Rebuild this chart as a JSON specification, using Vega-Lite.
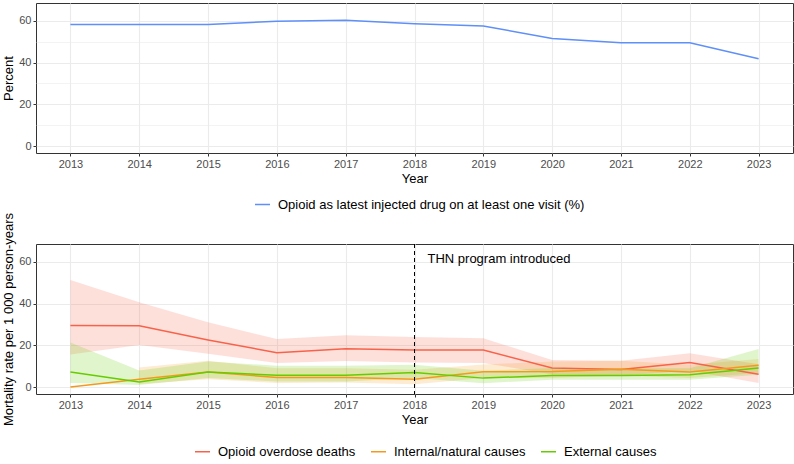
{
  "$schema": "https://vega.github.io/schema/vega-lite/v6.json",
  "padding": {"left": 2, "top": 2, "right": 2, "bottom": 2},
  "background": "white",
  "spacing": 91,
  "bounds": "flush",
  "resolve": {"scale": {"color": "independent"}, "legend": {"color": "independent"}},
  "config": {
    "font": "Liberation Sans",
    "view": {"stroke": "#333333", "strokeWidth": 1},
    "axis": {
      "domain": false,
      "labelFont": "Liberation Sans",
      "labelFontSize": 11,
      "labelColor": "#4D4D4D",
      "tickColor": "#333333",
      "tickSize": 3,
      "labelPadding": 2,
      "titleFont": "Liberation Sans",
      "titleFontSize": 13,
      "titleFontWeight": "normal",
      "titleColor": "#000000",
      "titlePadding": 3,
      "gridColor": "#EBEBEB"
    },
    "legend": {
      "orient": "none",
      "direction": "horizontal",
      "title": null,
      "labelFont": "Liberation Sans",
      "labelFontSize": 13,
      "labelColor": "#000000",
      "labelLimit": 0,
      "symbolType": "stroke",
      "symbolSize": 225,
      "symbolStrokeWidth": 1.5,
      "labelOffset": 7,
      "columnPadding": 12
    }
  },
  "datasets": {
    "pct": [
      {"year": 2013, "pct": 58.2, "series": "Opioid as latest injected drug on at least one visit (%)"},
      {"year": 2014, "pct": 58.2, "series": "Opioid as latest injected drug on at least one visit (%)"},
      {"year": 2015, "pct": 58.2, "series": "Opioid as latest injected drug on at least one visit (%)"},
      {"year": 2016, "pct": 59.8, "series": "Opioid as latest injected drug on at least one visit (%)"},
      {"year": 2017, "pct": 60.3, "series": "Opioid as latest injected drug on at least one visit (%)"},
      {"year": 2018, "pct": 58.6, "series": "Opioid as latest injected drug on at least one visit (%)"},
      {"year": 2019, "pct": 57.5, "series": "Opioid as latest injected drug on at least one visit (%)"},
      {"year": 2020, "pct": 51.5, "series": "Opioid as latest injected drug on at least one visit (%)"},
      {"year": 2021, "pct": 49.5, "series": "Opioid as latest injected drug on at least one visit (%)"},
      {"year": 2022, "pct": 49.5, "series": "Opioid as latest injected drug on at least one visit (%)"},
      {"year": 2023, "pct": 41.8, "series": "Opioid as latest injected drug on at least one visit (%)"}
    ],
    "mort": [
      {"year": 2013, "cause": "Opioid overdose deaths", "rate": 29.5, "lo": 15.6, "hi": 51.3},
      {"year": 2014, "cause": "Opioid overdose deaths", "rate": 29.4, "lo": 20.2, "hi": 40.6},
      {"year": 2015, "cause": "Opioid overdose deaths", "rate": 22.6, "lo": 16.0, "hi": 31.0},
      {"year": 2016, "cause": "Opioid overdose deaths", "rate": 16.5, "lo": 11.5, "hi": 23.0},
      {"year": 2017, "cause": "Opioid overdose deaths", "rate": 18.3, "lo": 12.5, "hi": 24.8},
      {"year": 2018, "cause": "Opioid overdose deaths", "rate": 17.8, "lo": 11.8, "hi": 24.0},
      {"year": 2019, "cause": "Opioid overdose deaths", "rate": 17.8, "lo": 11.5, "hi": 23.4},
      {"year": 2020, "cause": "Opioid overdose deaths", "rate": 9.1, "lo": 6.2, "hi": 13.0},
      {"year": 2021, "cause": "Opioid overdose deaths", "rate": 8.4, "lo": 5.6, "hi": 12.6},
      {"year": 2022, "cause": "Opioid overdose deaths", "rate": 11.8, "lo": 7.8, "hi": 16.2},
      {"year": 2023, "cause": "Opioid overdose deaths", "rate": 6.2, "lo": 2.0, "hi": 11.0},
      {"year": 2013, "cause": "Internal/natural causes", "rate": 0.0, "lo": null, "hi": null},
      {"year": 2014, "cause": "Internal/natural causes", "rate": 3.8, "lo": 1.5, "hi": 9.4},
      {"year": 2015, "cause": "Internal/natural causes", "rate": 7.2, "lo": 3.8, "hi": 12.6},
      {"year": 2016, "cause": "Internal/natural causes", "rate": 4.6, "lo": 2.0, "hi": 9.0},
      {"year": 2017, "cause": "Internal/natural causes", "rate": 4.6, "lo": 2.2, "hi": 9.0},
      {"year": 2018, "cause": "Internal/natural causes", "rate": 3.8, "lo": 1.4, "hi": 8.3},
      {"year": 2019, "cause": "Internal/natural causes", "rate": 7.3, "lo": 4.3, "hi": 10.8},
      {"year": 2020, "cause": "Internal/natural causes", "rate": 7.5, "lo": 4.3, "hi": 12.3},
      {"year": 2021, "cause": "Internal/natural causes", "rate": 8.6, "lo": 5.6, "hi": 12.6},
      {"year": 2022, "cause": "Internal/natural causes", "rate": 7.2, "lo": 4.3, "hi": 10.7},
      {"year": 2023, "cause": "Internal/natural causes", "rate": 10.5, "lo": 6.7, "hi": 13.5},
      {"year": 2013, "cause": "External causes", "rate": 7.2, "lo": 2.0, "hi": 21.3},
      {"year": 2014, "cause": "External causes", "rate": 2.4, "lo": 1.0, "hi": 8.0},
      {"year": 2015, "cause": "External causes", "rate": 7.2, "lo": 4.3, "hi": 12.3},
      {"year": 2016, "cause": "External causes", "rate": 5.7, "lo": 2.7, "hi": 10.2},
      {"year": 2017, "cause": "External causes", "rate": 5.7, "lo": 2.7, "hi": 10.2},
      {"year": 2018, "cause": "External causes", "rate": 7.0, "lo": 4.3, "hi": 10.7},
      {"year": 2019, "cause": "External causes", "rate": 4.3, "lo": 1.9, "hi": 7.8},
      {"year": 2020, "cause": "External causes", "rate": 5.6, "lo": 3.5, "hi": 9.1},
      {"year": 2021, "cause": "External causes", "rate": 5.6, "lo": 3.5, "hi": 9.0},
      {"year": 2022, "cause": "External causes", "rate": 5.9, "lo": 3.5, "hi": 9.0},
      {"year": 2023, "cause": "External causes", "rate": 9.1, "lo": 5.9, "hi": 18.3}
    ],
    "events": [
      {"year": 2018, "y": 61.5, "label": "THN program introduced"}
    ]
  },
  "vconcat": [
    {
      "width": 757,
      "height": 150,
      "data": {"name": "pct"},
      "mark": {"type": "line", "strokeWidth": 1.5},
      "encoding": {
        "x": {
          "field": "year", "type": "quantitative",
          "scale": {"domain": [2012.5, 2023.5], "nice": false, "zero": false},
          "axis": {
            "title": "Year", "format": "d",
            "values": [2013, 2013.5, 2014, 2014.5, 2015, 2015.5, 2016, 2016.5, 2017, 2017.5, 2018, 2018.5, 2019, 2019.5, 2020, 2020.5, 2021, 2021.5, 2022, 2022.5, 2023],
            "labelExpr": "datum.value % 1 == 0 ? datum.label : ''",
            "tickOpacity": {"condition": {"test": "datum.value % 1 != 0", "value": 0}, "value": 1},
            "gridWidth": {"condition": {"test": "datum.value % 1 != 0", "value": 0.6}, "value": 1.1}
          }
        },
        "y": {
          "field": "pct", "type": "quantitative",
          "scale": {"domain": [-3.3, 68.5], "nice": false, "zero": false},
          "axis": {
            "title": "Percent",
            "values": [0, 10, 20, 30, 40, 50, 60],
            "labelExpr": "datum.value % 20 == 0 ? datum.label : ''",
            "tickOpacity": {"condition": {"test": "datum.value % 20 != 0", "value": 0}, "value": 1},
            "gridWidth": {"condition": {"test": "datum.value % 20 != 0", "value": 0.6}, "value": 1.1}
          }
        },
        "color": {
          "field": "series", "type": "nominal",
          "scale": {"range": ["#5F8FF8"]},
          "legend": {"orient": "none", "legendX": 218, "legendY": 193}
        }
      }
    },
    {
      "width": 757,
      "height": 150,
      "layer": [
        {
          "data": {"name": "mort"},
          "mark": {"type": "area", "opacity": 0.2},
          "encoding": {
            "x": {"field": "year", "type": "quantitative", "scale": {"domain": [2012.5, 2023.5], "nice": false, "zero": false},
              "axis": {
                "title": "Year", "format": "d",
                "values": [2013, 2013.5, 2014, 2014.5, 2015, 2015.5, 2016, 2016.5, 2017, 2017.5, 2018, 2018.5, 2019, 2019.5, 2020, 2020.5, 2021, 2021.5, 2022, 2022.5, 2023],
                "labelExpr": "datum.value % 1 == 0 ? datum.label : ''",
                "tickOpacity": {"condition": {"test": "datum.value % 1 != 0", "value": 0}, "value": 1},
                "gridWidth": {"condition": {"test": "datum.value % 1 != 0", "value": 0.6}, "value": 1.1}
              }
            },
            "y": {"field": "lo", "type": "quantitative", "scale": {"domain": [-3.3, 68.5], "nice": false, "zero": false},
              "axis": {
                "title": "Mortality rate per 1 000 person-years",
                "values": [0, 10, 20, 30, 40, 50, 60],
                "labelExpr": "datum.value % 20 == 0 ? datum.label : ''",
                "tickOpacity": {"condition": {"test": "datum.value % 20 != 0", "value": 0}, "value": 1},
                "gridWidth": {"condition": {"test": "datum.value % 20 != 0", "value": 0.6}, "value": 1.1}
              }
            },
            "y2": {"field": "hi"},
            "fill": {
              "field": "cause", "type": "nominal",
              "scale": {"domain": ["Opioid overdose deaths", "Internal/natural causes", "External causes"], "range": ["#F8624A", "#F39A1E", "#66CC00"]},
              "legend": null
            }
          }
        },
        {
          "data": {"name": "mort"},
          "mark": {"type": "line", "strokeWidth": 1.5},
          "encoding": {
            "x": {"field": "year", "type": "quantitative"},
            "y": {"field": "rate", "type": "quantitative"},
            "color": {
              "field": "cause", "type": "nominal",
              "scale": {"domain": ["Opioid overdose deaths", "Internal/natural causes", "External causes"], "range": ["#F8624A", "#F39A1E", "#66CC00"]},
              "legend": {"orient": "none", "legendX": 158, "legendY": 199}
            }
          }
        },
        {
          "data": {"name": "events"},
          "mark": {"type": "rule", "color": "#000000", "strokeWidth": 1, "strokeDash": [4, 3]},
          "encoding": {
            "x": {"field": "year", "type": "quantitative"}
          }
        },
        {
          "data": {"name": "events"},
          "mark": {"type": "text", "align": "left", "baseline": "middle", "dx": 13, "fontSize": 13, "color": "#000000", "font": "Liberation Sans"},
          "encoding": {
            "x": {"field": "year", "type": "quantitative"},
            "y": {"field": "y", "type": "quantitative"},
            "text": {"field": "label"}
          }
        }
      ]
    }
  ]
}
